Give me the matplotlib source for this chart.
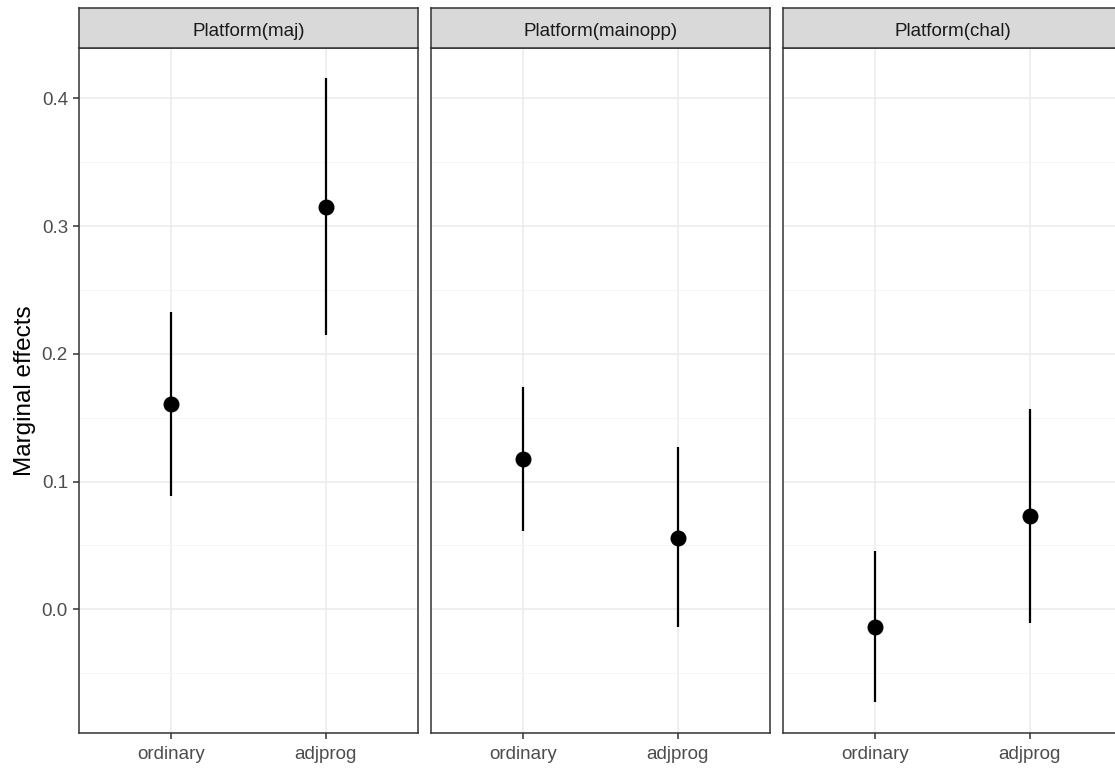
import matplotlib
matplotlib.use("Agg")
import matplotlib.pyplot as plt
from matplotlib.ticker import FixedLocator

plt.rcParams['font.family'] = ['Liberation Sans', 'DejaVu Sans']

panels = ["Platform(maj)", "Platform(mainopp)", "Platform(chal)"]
categories = ["ordinary", "adjprog"]
estimate = [[0.1605, 0.3147], [0.1174, 0.0556], [-0.0141, 0.0728]]
ci_low = [[0.0885, 0.2145], [0.0610, -0.0141], [-0.0728, -0.0110]]
ci_high = [[0.2325, 0.4157], [0.1738, 0.1268], [0.0454, 0.1566]]

W, H = 1115, 769
fig = plt.figure(figsize=(W / 100, H / 100), dpi=100)

panel_w = 339
gap = 13
left0 = 79
top_px = 47.7
bottom_px = 732.7
strip_top = 8

ymin, ymax = -0.0966, 0.4396
border = "#333333"

for i, name in enumerate(panels):
    lpx = left0 + i * (panel_w + gap)
    ax = fig.add_axes([lpx / W, 1 - bottom_px / H, panel_w / W, (bottom_px - top_px) / H])
    xs = list(range(1, len(categories) + 1))
    ax.set_xlim(0.4, 2.6)
    ax.set_ylim(ymin, ymax)
    ax.yaxis.set_major_locator(FixedLocator([0.0, 0.1, 0.2, 0.3, 0.4]))
    ax.yaxis.set_minor_locator(FixedLocator([-0.05, 0.05, 0.15, 0.25, 0.35]))
    ax.set_xticks(xs)
    ax.set_xticklabels(categories)
    ax.grid(which="major", color="#EBEBEB", lw=1.1, zorder=0)
    ax.grid(which="minor", axis="y", color="#F4F4F4", lw=0.6, zorder=0)
    ax.set_axisbelow(True)
    for s in ax.spines.values():
        s.set_color(border)
        s.set_linewidth(1.1)
    ax.tick_params(axis="both", which="major", length=4, width=1.1, color=border,
                   labelcolor="#4D4D4D", labelsize=13.5, pad=4)
    ax.tick_params(axis="x", which="major", pad=5.5)
    ax.tick_params(axis="y", which="minor", length=0)
    if i == 0:
        ax.set_yticklabels(["0.0", "0.1", "0.2", "0.3", "0.4"])
        ax.set_ylabel("Marginal effects", fontsize=17.5, color="black", labelpad=4)
    else:
        ax.tick_params(axis="y", which="major", left=False, labelleft=False)

    ax.vlines(xs, ci_low[i], ci_high[i], color="black", lw=1.6, zorder=3)
    ax.plot(xs, estimate[i], "o", color="black", markersize=10.5, zorder=4)

    # facet strip
    sax = fig.add_axes([lpx / W, 1 - top_px / H, panel_w / W, (top_px - strip_top) / H])
    sax.set_facecolor("#D9D9D9")
    sax.set_xticks([])
    sax.set_yticks([])
    for s in sax.spines.values():
        s.set_color(border)
        s.set_linewidth(1.1)
    sax.text(0.5, 0.42, name, ha="center", va="center", fontsize=13.5,
             color="#1A1A1A", transform=sax.transAxes)

fig.savefig("out.png", dpi=100)
